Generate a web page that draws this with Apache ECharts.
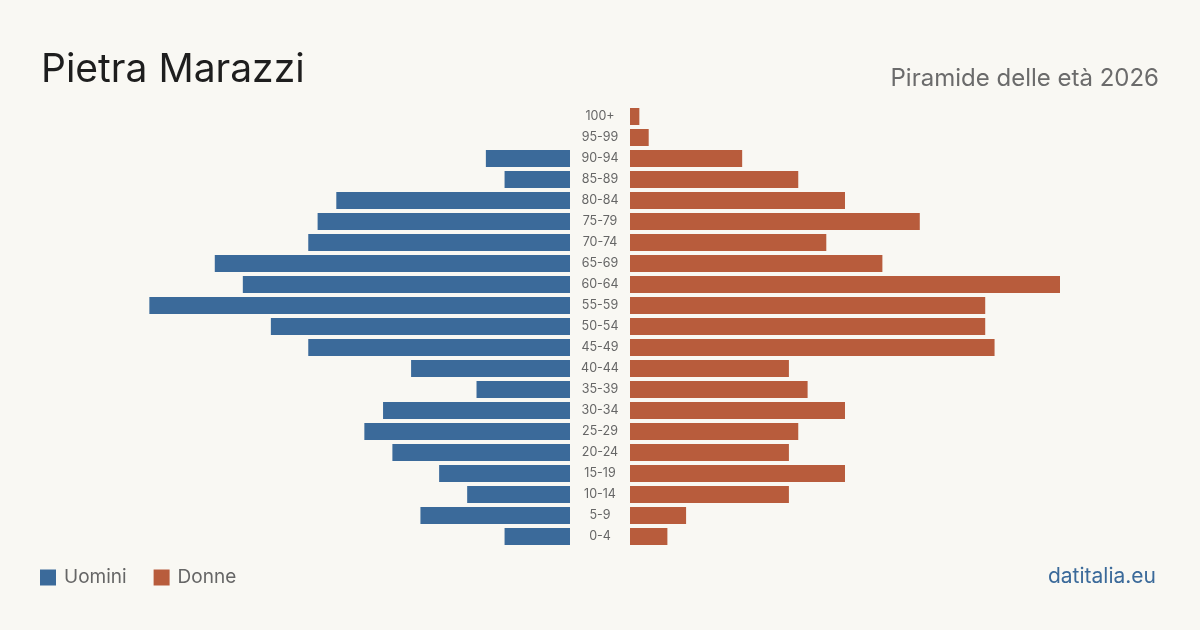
<!DOCTYPE html>
<html lang="it">
<head>
  <meta charset="UTF-8">
  <title>Pietra Marazzi - Piramide delle età 2026</title>
  <script src="https://cdn.jsdelivr.net/npm/echarts@6/dist/echarts.min.js"></script>
  <style>
    html, body { margin: 0; padding: 0; background: #f9f8f3; }
    #main { width: 1200px; height: 630px; }
  </style>
</head>
<body>
  <div id="main"></div>
  <script>
    // Classi di età (dal basso verso l'alto)
    const classi = ['0-4', '5-9', '10-14', '15-19', '20-24', '25-29', '30-34', '35-39',
      '40-44', '45-49', '50-54', '55-59', '60-64', '65-69', '70-74', '75-79',
      '80-84', '85-89', '90-94', '95-99', '100+'];
    const uomini = [7, 16, 11, 14, 19, 22, 20, 10, 17, 28, 32, 45, 35, 38, 28, 27, 25, 7, 9, 0, 0];
    const donne = [4, 6, 17, 23, 17, 18, 23, 19, 17, 39, 38, 38, 46, 27, 21, 31, 23, 18, 12, 2, 1];

    const maxVal = 46;
    const font = 'Inter, "Noto Sans", sans-serif';

    var myChart = echarts.init(document.getElementById('main'));
    var option = {
      backgroundColor: '#f9f8f3',
      animation: false,
      textStyle: { fontFamily: font },
      title: [
        {
          text: 'Pietra Marazzi',
          left: 36, top: 46,
          textStyle: { fontSize: 39, fontWeight: 'normal', color: '#1e1e1e', fontFamily: font }
        },
        {
          text: 'Piramide delle età 2026',
          right: 36, top: 62,
          textStyle: { fontSize: 24, fontWeight: 'normal', color: '#6b6b6b', fontFamily: font }
        },
        {
          text: 'datitalia.eu',
          right: 39, top: 561,
          textStyle: { fontSize: 21, fontWeight: 'normal', color: '#3b6a9a', fontFamily: font }
        }
      ],
      legend: {
        left: 35, top: 563,
        icon: 'rect',
        itemWidth: 16, itemHeight: 16,
        itemGap: 27,
        textStyle: { fontSize: 19, color: '#666666', fontFamily: font, padding: [0, 0, 0, 3] },
        data: ['Uomini', 'Donne']
      },
      grid: [
        { left: 140, width: 430, top: 106, height: 441 },
        { left: 630, width: 430, top: 106, height: 441 }
      ],
      xAxis: [
        { gridIndex: 0, type: 'value', min: 0, max: maxVal, inverse: true, show: false },
        { gridIndex: 1, type: 'value', min: 0, max: maxVal, show: false }
      ],
      yAxis: [
        {
          gridIndex: 0, type: 'category', data: classi, position: 'right',
          axisLine: { show: false }, axisTick: { show: false }, axisLabel: { show: false }
        },
        {
          gridIndex: 1, type: 'category', data: classi,
          axisLine: { show: false }, axisTick: { show: false },
          axisLabel: {
            margin: 30, align: 'center', fontSize: 12.5, color: '#666666',
            fontFamily: font, padding: [4, 0, 0, 0]
          }
        }
      ],
      series: [
        {
          name: 'Uomini', type: 'bar', xAxisIndex: 0, yAxisIndex: 0,
          data: uomini, barWidth: 17,
          itemStyle: { color: '#3b6a9a' }
        },
        {
          name: 'Donne', type: 'bar', xAxisIndex: 1, yAxisIndex: 1,
          data: donne, barWidth: 17,
          itemStyle: { color: '#b85c3c' }
        }
      ]
    };
    myChart.setOption(option);
  </script>
</body>
</html>
